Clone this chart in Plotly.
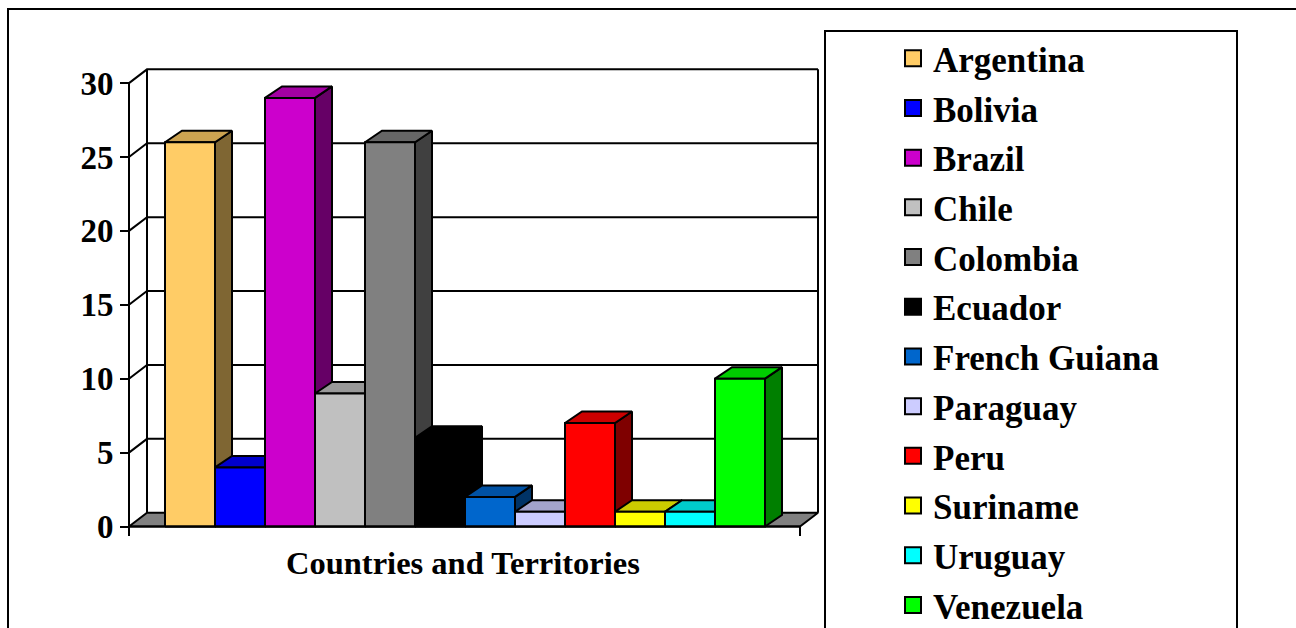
import plotly.graph_objects as go

# ---- data ----
countries = ["Argentina", "Bolivia", "Brazil", "Chile", "Colombia", "Ecuador",
             "French Guiana", "Paraguay", "Peru", "Suriname", "Uruguay", "Venezuela"]
values = [26, 4, 29, 9, 26, 6, 2, 1, 7, 1, 1, 10]
colors = ["#FFCC66", "#0000FF", "#CC00CC", "#C0C0C0", "#808080", "#000000",
          "#0066CC", "#CCCCFF", "#FF0000", "#FFFF00", "#00FFFF", "#00FF00"]
y_ticks = [0, 5, 10, 15, 20, 25, 30]
x_title = "Countries and Territories"

# ---- canvas geometry (pixels) ----
W, H = 1296, 628
BAR_PX = 50            # width of one column
FIRST_PX = 190         # centre of the first column
BASE_PX = 526.5        # front floor line
UNIT_PX = 14.78        # pixels per value unit
FRONT_LEFT_PX = 129    # front edge of the side wall / value axis
FRONT_RIGHT_PX = 800   # front-right corner of the floor

FONT = "Liberation Serif, Times New Roman, serif"


def px_x(px):
    return (px - FIRST_PX) / BAR_PX


def px_dy(px):
    return px / UNIT_PX


x_left = px_x(FRONT_LEFT_PX)
x_right = px_x(FRONT_RIGHT_PX)
ymax = y_ticks[-1]

# depth of walls/floor and of the columns (oblique projection)
WDX, WDY = 18 / BAR_PX, px_dy(13.75)
BDX, BDY = 17 / BAR_PX, px_dy(11.5)
TICK_DOWN = -px_dy(9.5)


def shade(hex_color, f):
    h = hex_color.lstrip("#")
    r, g, b = (int(h[i:i + 2], 16) for i in (0, 2, 4))
    return "#%02X%02X%02X" % (int(r * f), int(g * f), int(b * f))


def poly(xs, ys, fill, name=None, group=None):
    return go.Scatter(
        x=xs + [xs[0]], y=ys + [ys[0]], mode="lines", fill="toself",
        fillcolor=fill, line=dict(color="black", width=2),
        hoverinfo="skip", showlegend=False, legendgroup=group, name=name,
    )


fig = go.Figure()

# floor
fig.add_trace(poly([x_left, x_right, x_right + WDX, x_left + WDX],
                   [0, 0, WDY, WDY], "#808080"))

# gridlines on side wall and back wall
gx, gy = [], []
for v in y_ticks[1:]:
    gx += [x_left, x_left + WDX, x_right + WDX, None]
    gy += [v, v + WDY, v + WDY, None]
# back wall vertical edges
gx += [x_left + WDX, x_left + WDX, None, x_right + WDX, x_right + WDX]
gy += [WDY, ymax + WDY, None, WDY, ymax + WDY]
fig.add_trace(go.Scatter(x=gx, y=gy, mode="lines",
                         line=dict(color="black", width=2),
                         hoverinfo="skip", showlegend=False))

# columns: side, top, front, drawn left to right
for i, (name, v, c) in enumerate(zip(countries, values, colors)):
    l, r = i - 0.5, i + 0.5
    fig.add_trace(poly([r, r + BDX, r + BDX, r], [0, BDY, v + BDY, v],
                       shade(c, 0.5), name, name))
    fig.add_trace(poly([l, l + BDX, r + BDX, r], [v, v + BDY, v + BDY, v],
                       shade(c, 0.8), name, name))
    front = poly([l, r, r, l], [0, 0, v, v], c, name, name)
    front.hoverinfo = "text"
    front.text = f"{name}: {v}"
    front.hoveron = "fills"
    fig.add_trace(front)

# front axis line, front floor edge and its end ticks
fig.add_trace(go.Scatter(
    x=[x_left, x_left, None, x_left, x_right, x_right],
    y=[ymax, TICK_DOWN, None, 0, 0, TICK_DOWN],
    mode="lines", line=dict(color="black", width=2),
    hoverinfo="skip", showlegend=False))

# legend entries
for name, c in zip(countries, colors):
    fig.add_trace(go.Scatter(
        x=[None], y=[None], mode="markers", name=name, legendgroup=name,
        marker=dict(symbol="square", size=16, color=c,
                    line=dict(color="black", width=2)),
    ))

fig.update_layout(
    width=W, height=H,
    margin=dict(l=0, r=0, t=0, b=0, autoexpand=False),
    paper_bgcolor="white", plot_bgcolor="white",
    xaxis=dict(range=[px_x(0), px_x(W)], visible=False, fixedrange=True),
    yaxis=dict(
        range=[(BASE_PX - H) / UNIT_PX, BASE_PX / UNIT_PX],
        anchor="free", position=FRONT_LEFT_PX / W, automargin=False,
        tickvals=y_ticks, ticktext=[str(t) for t in y_ticks],
        ticks="outside", ticklen=9, tickwidth=2, tickcolor="black",
        showline=False, showgrid=False, zeroline=False, fixedrange=True,
        tickfont=dict(family=FONT, size=33, color="black", weight="bold"),
    ),
    showlegend=True,
    legend=dict(
        x=893 / W, xanchor="left", y=1 - 29 / H, yanchor="top",
        font=dict(family=FONT, size=35, color="black", weight="bold"),
        itemsizing="trace", tracegroupgap=1.2, bgcolor="rgba(0,0,0,0)",
        borderwidth=0, maxheight=900,
    ),
    annotations=[dict(
        text=x_title, xref="paper", yref="paper",
        x=463 / W, y=1 - 563 / H, xanchor="center", yanchor="middle",
        showarrow=False,
        font=dict(family=FONT, size=32.5, color="black", weight="bold"),
    )],
    shapes=[
        dict(type="rect", xref="paper", yref="paper",
             x0=8 / W, y0=1 - 9 / H, x1=1.02, y1=-0.05,
             line=dict(color="black", width=2)),
        dict(type="rect", xref="paper", yref="paper",
             x0=825 / W, y0=1 - 31 / H, x1=1237 / W, y1=-0.05,
             line=dict(color="black", width=2)),
    ],
)

fig.write_html("out.html")
